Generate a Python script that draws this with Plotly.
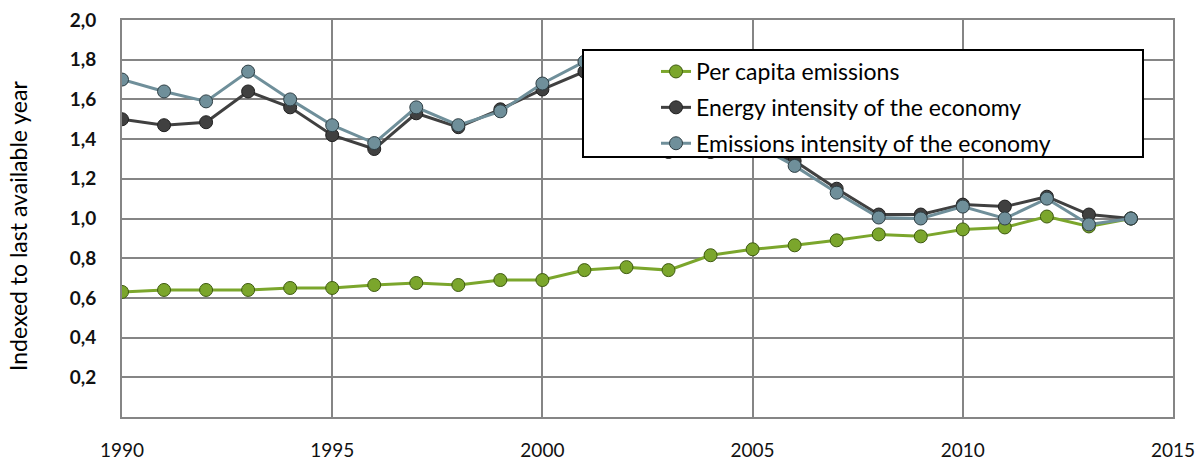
import plotly.graph_objects as go

years = list(range(1990, 2015))
per_capita = [0.63, 0.64, 0.64, 0.64, 0.65, 0.65, 0.665, 0.675, 0.665, 0.69, 0.69,
              0.74, 0.755, 0.74, 0.815, 0.845, 0.865, 0.89, 0.92, 0.91, 0.945,
              0.955, 1.01, 0.96, 1.00]
energy_int = [1.50, 1.47, 1.485, 1.64, 1.56, 1.42, 1.35, 1.53, 1.46, 1.55, 1.65,
              1.74, 1.56, 1.335, 1.335, 1.35, 1.29, 1.15, 1.02, 1.02, 1.07,
              1.06, 1.11, 1.02, 1.00]
emis_int = [1.70, 1.64, 1.59, 1.74, 1.60, 1.47, 1.38, 1.56, 1.47, 1.54, 1.68,
            1.79, 1.58, 1.37, 1.37, 1.38, 1.265, 1.13, 1.005, 1.00, 1.06,
            1.00, 1.10, 0.97, 1.00]
names = ["Per capita emissions", "Energy intensity of the economy",
         "Emissions intensity of the economy"]
colors = ["#7BA62C", "#404040", "#6F8F9A"]
edge = ["#3E5A10", "#202020", "#2E3E44"]

x_ticks = [1990, 1995, 2000, 2005, 2010, 2015]
y_ticks = [0.2, 0.4, 0.6, 0.8, 1.0, 1.2, 1.4, 1.6, 1.8, 2.0]
y_ticktext = ["0,2", "0,4", "0,6", "0,8", "1,0", "1,2", "1,4", "1,6", "1,8", "2,0"]

W, H = 1200, 461
L, R, T, B = 122, 1173, 20, 417
pw, ph = R - L, B - T

def px(xp):
    return (xp - L) / pw

def py(yp):
    return (B - yp) / ph

fig = go.Figure()
for i, series in enumerate([per_capita, energy_int, emis_int]):
    fig.add_trace(go.Scatter(
        x=years, y=series, name=names[i], mode="lines+markers",
        line=dict(color=colors[i], width=3),
        marker=dict(symbol="circle", size=13, color=colors[i],
                    line=dict(color=edge[i], width=1)),
        legendgroup=f"g{i}",
    ))

fig.add_shape(type="rect", xref="paper", yref="paper",
              x0=px(583), x1=px(1143), y0=py(157), y1=py(50),
              line=dict(color="black", width=2), fillcolor="white", layer="above")

grid = "#858585"
font_main = "Lato, 'Open Sans', sans-serif"
fig.update_layout(
    width=W, height=H,
    margin=dict(l=L, r=W - R, t=T, b=H - B, autoexpand=False),
    paper_bgcolor="white", plot_bgcolor="white",
    showlegend=True,
    legend=dict(x=px(656), y=py(50), xanchor="left", yanchor="top",
                bgcolor="rgba(0,0,0,0)", borderwidth=0,
                font=dict(family=font_main, size=23, color="black"),
                tracegroupgap=3, itemwidth=30),
    xaxis=dict(range=[1990, 2015], tickvals=x_ticks, showgrid=True,
               gridcolor=grid, gridwidth=2, showline=True, linecolor=grid,
               linewidth=2, mirror=True, zeroline=False, ticks="",
               ticklabelstandoff=15, automargin=False,
               tickfont=dict(family=font_main, size=19, color="#111")),
    yaxis=dict(range=[0, 2.0], tickvals=y_ticks, ticktext=y_ticktext,
               showgrid=True, gridcolor=grid, gridwidth=2, showline=True,
               linecolor=grid, linewidth=2, mirror=True, zeroline=False,
               ticks="", ticklabelstandoff=20, automargin=False,
               tickfont=dict(family=font_main, size=19, color="#111",
                             weight="bold")),
    annotations=[dict(text="Indexed to last available year", textangle=-90,
                      xref="paper", yref="paper", x=px(18), y=py(226),
                      xanchor="center", yanchor="middle", showarrow=False,
                      font=dict(family=font_main, size=23, color="black"))],
)

fig.write_html("out.html", config={"displayModeBar": False},
               post_script="document.body.style.margin='0';"
                           "document.body.style.overflow='hidden';")
